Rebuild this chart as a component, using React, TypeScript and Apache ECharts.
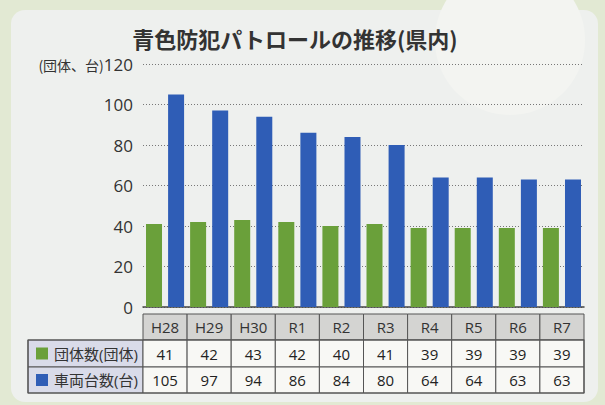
import React, { useEffect, useRef } from "react";
import * as echarts from "echarts";

const categories = ["H28", "H29", "H30", "R1", "R2", "R3", "R4", "R5", "R6", "R7"];
const groups = [41, 42, 43, 42, 40, 41, 39, 39, 39, 39];
const vehicles = [105, 97, 94, 86, 84, 80, 64, 64, 63, 63];
const seriesNames = ["団体数(団体)", "車両台数(台)"];
const title = "青色防犯パトロールの推移(県内)";
const unitLabel = "(団体、台)";

const GREEN = "#6aa03a";
const BLUE = "#2f5db6";
const FONT = '"Open Sans", "Noto Sans CJK JP", sans-serif';

export default function App() {
  const ref = useRef<HTMLDivElement>(null);
  useEffect(() => {
    document.body.style.margin = "0";
    const chart = echarts.init(ref.current!, null, { renderer: "svg" });
    const gridLeft = 143;
    const gridRight = 584;
    const colW = (gridRight - gridLeft) / categories.length;
    const headTop = 314;
    const rowH = [26, 27, 26];
    const rowY = [headTop, headTop + rowH[0], headTop + rowH[0] + rowH[1]];
    const tableBottom = rowY[2] + rowH[2];
    const labelLeft = 28;
    const border = "#555";

    const g: any[] = [];
    // panel background
    g.push({ type: "rect", z: -10, shape: { x: 0, y: 0, width: 605, height: 405 }, style: { fill: "#e2e9d3" } });
    g.push({ type: "rect", z: -9, shape: { x: 11, y: 10, width: 587, height: 392, r: 14 }, style: { fill: "#eef0ee" } });
    g.push({ type: "circle", z: -8, shape: { cx: 510, cy: 40, r: 75 }, style: { fill: "#f3f4f1" } });

    // header cells
    categories.forEach((c, i) => {
      const x = gridLeft + i * colW;
      g.push({ type: "rect", shape: { x, y: rowY[0], width: colW, height: rowH[0] }, style: { fill: "#d4d4d2", stroke: border, lineWidth: 1 } });
      g.push({ type: "text", style: { x: x + colW / 2, y: rowY[0] + rowH[0] / 2, text: c, fill: "#333", font: `15px ${FONT}`, align: "center", verticalAlign: "middle" } });
    });
    const rows = [groups, vehicles];
    const colors = [GREEN, BLUE];
    rows.forEach((arr, r) => {
      const y = rowY[r + 1];
      const h = rowH[r + 1];
      g.push({ type: "rect", shape: { x: labelLeft, y, width: gridLeft - labelLeft, height: h }, style: { fill: "#d9dbe9", stroke: border, lineWidth: 1 } });
      g.push({ type: "rect", shape: { x: 36, y: y + h / 2 - 6, width: 12, height: 12 }, style: { fill: colors[r] } });
      g.push({ type: "text", style: { x: 54, y: y + h / 2, text: seriesNames[r], fill: "#333", font: `15px ${FONT}`, align: "left", verticalAlign: "middle" } });
      arr.forEach((v, i) => {
        const x = gridLeft + i * colW;
        g.push({ type: "rect", shape: { x, y, width: colW, height: h }, style: { fill: "#f8f8f5", stroke: border, lineWidth: 1 } });
        g.push({ type: "text", style: { x: x + colW / 2, y: y + h / 2, text: String(v), fill: "#222", font: `15px ${FONT}`, align: "center", verticalAlign: "middle" } });
      });
    });
    // outer table border
    g.push({ type: "rect", shape: { x: labelLeft, y: rowY[1], width: gridRight - labelLeft, height: tableBottom - rowY[1] }, style: { fill: "none", stroke: border, lineWidth: 1.2 } });

    chart.setOption({
      animation: false,
      title: {
        text: title,
        left: 290,
        top: 22,
        textAlign: "center",
        textStyle: { fontFamily: '"Noto Sans CJK JP", sans-serif', fontSize: 22, fontWeight: "bold", color: "#333" },
      },
      grid: { left: gridLeft, right: 605 - gridRight, top: 64, bottom: 405 - 307 },
      xAxis: {
        type: "category",
        data: categories,
        axisLine: { lineStyle: { color: "#444", width: 1.5 } },
        axisTick: { inside: true, length: 4, lineStyle: { color: "#444" } },
        axisLabel: { show: false },
      },
      yAxis: {
        type: "value",
        min: 0,
        max: 120,
        interval: 20,
        axisLine: { show: false },
        axisTick: { show: false },
        splitLine: { lineStyle: { color: "#777", type: [1, 2], width: 1 } },
        axisLabel: {
          margin: 10,
          color: "#333",
          fontFamily: FONT,
          fontSize: 17,
          formatter: (v: number) => (v === 120 ? `{u|${unitLabel}}${v}` : `${v}`),
          rich: { u: { fontSize: 14, fontFamily: '"Noto Sans CJK JP", sans-serif', color: "#333", padding: [2, 0, 0, 0] } },
        },
      },
      series: [
        { name: seriesNames[0], type: "bar", data: groups, barWidth: 16, barGap: "38%", itemStyle: { color: GREEN } },
        { name: seriesNames[1], type: "bar", data: vehicles, barWidth: 16, itemStyle: { color: BLUE } },
      ],
      graphic: g,
    });
    return () => chart.dispose();
  }, []);
  return <div ref={ref} style={{ position: "absolute", left: 0, top: 0, width: 605, height: 405 }} />;
}
